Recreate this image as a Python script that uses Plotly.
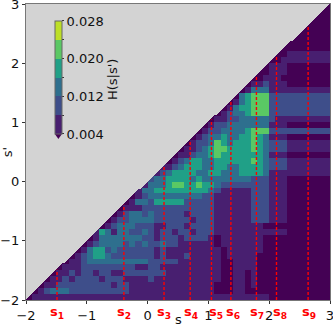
import numpy as np
import plotly.graph_objects as go

# H(s|s') read off the picture as bins of width 0.004, one digit per 0.1 x 0.1 cell
# top row is s'=3, '.' is outside the s'<s triangle
H_BINS = [
    ".......... .......... .......... .......... .........0",
    ".......... .......... .......... .......... ........00",
    ".......... .......... .......... .......... .......000",
    ".......... .......... .......... .......... ......0000",
    ".......... .......... .......... .......... .....00000",
    ".......... .......... .......... .......... ....000000",
    ".......... .......... .......... .......... ...0000000",
    ".......... .......... .......... .......... ..00000000",
    ".......... .......... .......... .......... .001111111",
    ".......... .......... .......... .......... 0011111111",
    ".......... .......... .......... .........0 1110000000",
    ".......... .......... .......... ........00 1110000000",
    ".......... .......... .......... .......001 1100000000",
    ".......... .......... .......... ......0112 1110000000",
    ".......... .......... .......... .....01333 1111111111",
    ".......... .......... .......... ....034555 2222222222",
    ".......... .......... .......... ...0134555 2222222222",
    ".......... .......... .......... ..01344555 2222222222",
    ".......... .......... .......... .012334555 2222222222",
    ".......... .......... .......... 0112233333 2111111111",
    ".......... .......... .........0 1223333333 1110000000",
    ".......... .......... ........01 2233334555 2222222222",
    ".......... .......... .......012 3343344543 1110000000",
    ".......... .......... ......0122 3543444543 2221111111",
    ".......... .......... .....01123 4554444543 2221111111",
    ".......... .......... ....011233 4544444443 1110000000",
    ".......... .......... ...0123443 3444444543 2221111111",
    ".......... .......... ..11234443 3443344443 2221111111",
    ".......... .......... .123444433 4433344443 1111111111",
    ".......... .......... 2334444343 3333333222 1110000000",
    ".......... .........1 3334554454 4322222222 1110000000",
    ".......... ........13 3444444444 3211111222 1110000000",
    ".......... .......012 3333333332 2111111222 1110000000",
    ".......... ......0133 2444442222 2111111222 1110000000",
    ".......... .....01112 2222222222 2111111222 1110000000",
    ".......... ....012332 3222221222 2111111222 1110000000",
    ".......... ...0122333 3222222122 2111111222 1110000000",
    ".......... ..01233322 2112221222 2111111110 0000000000",
    ".......... .143133223 2122122122 2111111111 1110000000",
    ".......... 0133333332 2122212222 1011111110 0000000000",
    ".........0 1233332323 2232211111 1011111110 0000000000",
    "........01 3442322222 2121111111 1101111110 0000000000",
    ".......012 3443222222 2121112111 1101111100 0000000000",
    "......0112 3333333333 2222211111 1100111100 0000000000",
    ".....01112 2222222211 2211111111 1100111100 0000000000",
    "....011212 2122112222 2221111111 1100110100 0000000000",
    "...0112122 2212221111 2111111111 1100110100 0000000000",
    "..01122222 2222122111 1111111111 1000110100 0000000000",
    ".012333222 2222222111 1111111111 1000110000 0000000000",
    "0111111111 1111111111 1111111111 1111111111 0000000000",
]
BIN_WIDTH = 0.004

S_VALUES = [-1.49, -0.39, 0.27, 0.70, 1.05, 1.37, 1.79, 2.12, 2.64]
S_LABEL_SHIFT = [0, 0, 0, 1, 5, 2, 1, 3, 1]
AXIS_TICKS = [-2, -1, 0, 1, 2, 3]
CBAR_TICKS = [0.004, 0.008, 0.012, 0.016, 0.020, 0.024, 0.028]
CBAR_LABELS = ["0.004", "", "0.012", "", "0.020", "", "0.028"]
BAND_COLORS = ["#481f70", "#3e4e8a", "#2e6f8e", "#20a087", "#5ac864", "#bddf26"]
UNDER_COLOR = "#440154"

FONT = "DejaVu Sans"
FINE = 6  # each cell split so that the diagonal is cut clean

rows = [r.replace(" ", "") for r in H_BINS][::-1]
cells = np.array([[np.nan if c == "." else (int(c) + 0.5) * BIN_WIDTH for c in r] for r in rows])
fine = np.repeat(np.repeat(cells, FINE, axis=0), FINE, axis=1)
axis = -2 + (np.arange(fine.shape[0]) + 0.5) * 5 / fine.shape[0]
fine[axis[:, None] > axis[None, :]] = np.nan


def bands(colors):
    scale = []
    for i, c in enumerate(colors):
        scale.append([i / len(colors), c])
        scale.append([(i + 1) / len(colors), c])
    return scale


fig = go.Figure()
fig.add_trace(go.Heatmap(x=axis, y=axis, z=fine, zmin=0, zmax=0.028,
                         colorscale=bands([UNDER_COLOR] + BAND_COLORS),
                         showscale=False, hoverinfo="skip"))
for s in S_VALUES:
    fig.add_trace(go.Scatter(x=[s, s], y=[-2, s], mode="lines", hoverinfo="skip",
                             line=dict(color="red", width=1.4, dash="3px,2px")))

# colorbar comes from an invisible marker so it can start at 0.004
fig.add_trace(go.Scatter(x=[-2, -2], y=[-2, -2], mode="markers", hoverinfo="skip",
                         marker=dict(color=[0.004, 0.028], cmin=0.004, cmax=0.028, opacity=0,
                                     colorscale=bands(BAND_COLORS), showscale=True,
                                     colorbar=dict(x=0.095, xanchor="left", xpad=0,
                                                   y=0.561, yanchor="bottom", ypad=0,
                                                   len=0.382, lenmode="fraction",
                                                   thickness=7, outlinewidth=1, outlinecolor="#666",
                                                   ticks="outside", ticklen=2, tickwidth=1,
                                                   tickcolor="#333",
                                                   tickvals=CBAR_TICKS, ticktext=CBAR_LABELS,
                                                   tickfont=dict(family=FONT, size=13, color="#111")))))

for s, shift, n in zip(S_VALUES, S_LABEL_SHIFT, range(1, 10)):
    fig.add_annotation(x=s, y=0, xref="x", yref="paper", yanchor="top", yshift=-2, xshift=shift,
                       text=f"<b>s<sub>{n}</sub></b>", showarrow=False,
                       font=dict(family=FONT, size=13, color="red"))

fig.add_annotation(x=0.283, y=0.743, xref="paper", yref="paper", xanchor="center", yanchor="middle",
                   text="H(s|s')", textangle=-90, showarrow=False,
                   font=dict(family=FONT, size=13, color="#111"))

# x title as an annotation, the axis title will not sit low enough with fixed margins
fig.add_annotation(x=0.5, y=0, xref="paper", yref="paper", xanchor="center", yanchor="top", yshift=-10,
                   text="s", showarrow=False, font=dict(family=FONT, size=13, color="#111"))

# the extend arrow under the colorbar
fig.add_shape(type="path", xref="paper", yref="paper", line_width=0, fillcolor=UNDER_COLOR,
              path="M 0.095 0.561 L 0.118 0.561 L 0.1065 0.544 Z")

axis_style = dict(range=[-2, 3], tickvals=AXIS_TICKS, ticks="outside", ticklen=3, tickwidth=1,
                  tickcolor="#333", showgrid=False, zeroline=False, showline=True, linewidth=1,
                  linecolor="#777", mirror=True, ticklabeloverflow="allow",
                  tickfont=dict(family=FONT, size=13, color="#111"))
fig.update_xaxes(**axis_style)
fig.update_yaxes(**axis_style, title=dict(text="s'", standoff=0, font=dict(family=FONT, size=13, color="#111")))

fig.update_layout(width=333, height=324, autosize=False, showlegend=False,
                  margin=dict(l=26, r=3, t=4, b=24, autoexpand=False),
                  paper_bgcolor="white", plot_bgcolor="#d3d3d3")

fig.write_html("out.html", config={"displayModeBar": False},
               post_script="document.body.style.margin='0';document.body.style.overflow='hidden';")
